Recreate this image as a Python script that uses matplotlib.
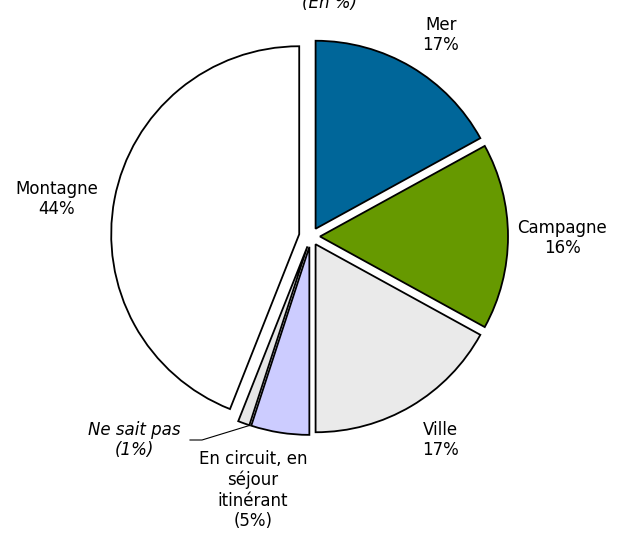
import matplotlib
matplotlib.use("Agg")
import matplotlib.pyplot as plt

categories = ["Mer", "Campagne", "Ville", "En circuit, en\nséjour\nitinérant", "Ne sait pas", "Montagne"]
values = [17, 16, 17, 5, 1, 44]
colors = ["#006699", "#669900", "#EAEAEA", "#CCCCFF", "#E6E6E6", "#FFFFFF"]
explode = [9.0, 9.0, 9.0, 10.5, 10.5, 12.0]  # offsets in pixels

W, H = 621, 534
fig = plt.figure(figsize=(W / 100, H / 100), dpi=100)
ax = fig.add_axes([0, 0, 1, 1])

def py(y):
    return H - y

ax.pie(values, colors=colors, explode=explode, startangle=90, counterclock=False,
       center=(311, py(236.5)), radius=188, frame=True,
       wedgeprops=dict(edgecolor="black", linewidth=1.3))
ax.set_xlim(0, W)
ax.set_ylim(0, H)
ax.set_aspect("equal")
ax.axis("off")

fs = 12
ax.text(330, py(3), "(En %)", ha="center", va="center", fontsize=fs, style="italic")
ax.text(441, py(35), f"{categories[0]}\n{values[0]}%", ha="center", va="center", fontsize=fs)
ax.text(562, py(238), f"{categories[1]}\n{values[1]}%", ha="center", va="center", fontsize=fs)
ax.text(440, py(440), f"{categories[2]}\n{values[2]}%", ha="center", va="center", fontsize=fs)
ax.text(253, py(490), f"{categories[3]}\n({values[3]}%)", ha="center", va="center", fontsize=fs)
ax.text(134, py(440), f"{categories[4]}\n({values[4]}%)", ha="center", va="center", fontsize=fs, style="italic")
ax.text(57, py(199), f"{categories[5]}\n{values[5]}%", ha="center", va="center", fontsize=fs)

ax.plot([190, 202, 251], [py(440), py(440), py(425)], color="black", linewidth=0.8)

fig.savefig("out.png", dpi=100)
